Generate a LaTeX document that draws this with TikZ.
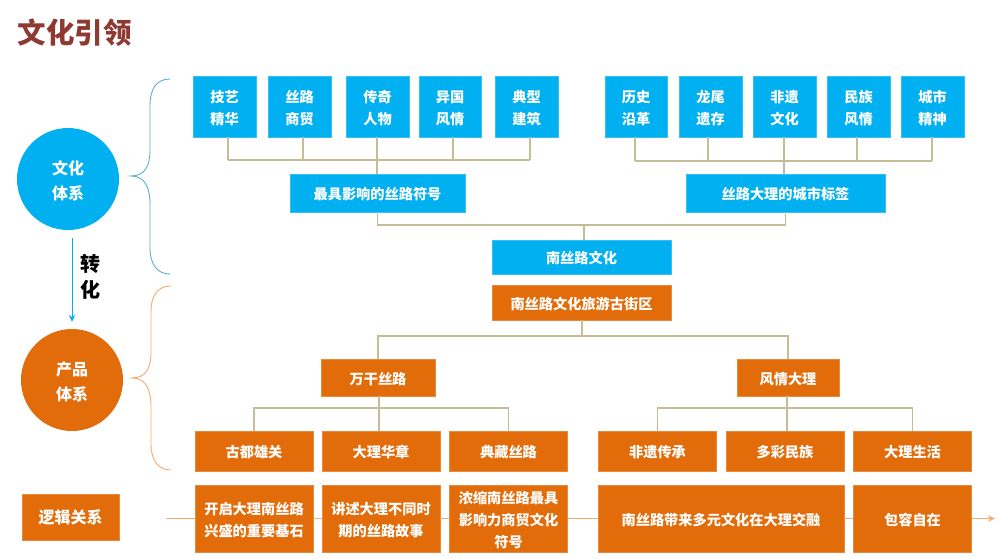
\documentclass[tikz,border=0pt]{standalone}
\usepackage{fontspec}
\setmainfont{Noto Sans CJK SC}
\usetikzlibrary{positioning, calc, arrows.meta}

\definecolor{skyblue}{HTML}{00B0F0}
\definecolor{deeporange}{HTML}{E36C0A}
\definecolor{tanline}{HTML}{C4BD97}
\definecolor{bracelight}{HTML}{F9A870}
\definecolor{braceteal}{HTML}{5AAFCB}
\definecolor{titlered}{HTML}{8E3A32}

\tikzset{
	lift/.style={execute at begin node={\rule{0pt}{#1}}},
	box/.style={rectangle, inner sep=0pt, text=white, align=center, font=\fontsize{14.2}{22}\selectfont\bfseries, lift=15pt},
	bluebox/.style={box, fill=skyblue, draw=skyblue!80!white, line width=0.5pt},
	orangebox/.style={box, fill=deeporange, draw=deeporange!80!white, line width=0.5pt},
	tag/.style={bluebox, minimum width=62.5pt, minimum height=60.5pt, lift=38pt},
	band/.style={orangebox, minimum width=118pt, minimum height=39.5pt},
	logicbox/.style={orangebox, minimum height=66.5pt},
	hub/.style={circle, inner sep=0pt, minimum size=102pt, text=white, align=center, font=\fontsize{16}{25}\selectfont\bfseries, lift=43pt},
	link/.style={draw=tanline, line width=1.2pt},
	flow/.style={draw=bracelight, line width=1pt},
	tip/.style={-{Stealth[length=7pt, width=6.5pt]}},
}

\begin{document}
\begin{tikzpicture}[x=1pt, y=-1pt, on grid]
	\useasboundingbox (0,0) rectangle (1000,558);

	\node[font=\fontsize{28.5}{30}\selectfont\bfseries, text=titlered, inner sep=0pt] (title) at (74.5,33) {文化引领};

	%Left side
	\node[hub, fill=skyblue]	(culture)	at (68,179)		{文化\\体系};
	\node[hub, fill=deeporange]	(product)	at (72,380)		{产品\\体系};
	\node[orangebox, minimum width=96.5pt, minimum height=45.5pt, font=\fontsize{16}{20}\selectfont\bfseries] (logic) at (70.5,517) {逻辑关系};
	\node[font=\fontsize{20}{26}\selectfont\bfseries, align=center, inner sep=0pt] (turn) at (90,277) {转\\化};
	\draw[tip, skyblue, line width=0.8pt, shorten <=8pt, shorten >=7pt] (product.north |- culture.south) -- (product.north);

	%Braces
	\draw[braceteal, line width=0.9pt] (170,79) .. controls (157,79) and (150,88) .. (150,106) -- (150,150) .. controls (150,166) and (145,176) .. (131,176)
		.. controls (145,176) and (150,188) .. (150,204) -- (150,248) .. controls (150,264) and (157,274) .. (170,274);
	\draw[bracelight, line width=0.9pt] (171,286) .. controls (158,286) and (151,295) .. (151,312) -- (151,352) .. controls (151,368) and (146,378) .. (132,378)
		.. controls (146,378) and (151,390) .. (151,406) -- (151,444) .. controls (151,460) and (158,470) .. (171,470);

	%Blue tags, left group
	\node[tag]	(A)	at (224.5,106.5)		{技艺\\精华};
	\node[tag]	(B)	[right=75pt of A]		{丝路\\商贸};
	\node[tag]	(C)	[right=78pt of B]		{传奇\\人物};
	\node[tag]	(D)	[right=72.5pt of C]		{异国\\风情};
	\node[tag]	(E)	[right=76.5pt of D]		{典型\\建筑};

	%Blue tags, right group
	\node[tag]	(F)	at (636,106.5)			{历史\\沿革};
	\node[tag]	(G)	[right=74.5pt of F]		{龙尾\\遗存};
	\node[tag]	(H)	[right=74pt of G]		{非遗\\文化};
	\node[tag]	(I)	[right=74pt of H]		{民族\\风情};
	\node[tag]	(J)	[right=74pt of I]		{城市\\精神};

	%Middle titles
	\node[bluebox, minimum width=174.5pt, minimum height=37.5pt]	(symbol)	at (377.5,193)	{最具影响的丝路符号};
	\node[bluebox, minimum width=198.5pt, minimum height=37.5pt]	(label)		at (785.5,193)	{丝路大理的城市标签};
	\node[bluebox, minimum width=178.5pt, minimum height=33.5pt]	(southroad)	at (581.5,257)	{南丝路文化};
	\node[orangebox, minimum width=178.5pt, minimum height=34.5pt]	(street)	[below=45.5pt of southroad]	{南丝路文化旅游古街区};
	\node[orangebox, minimum width=113.5pt, minimum height=36.5pt]	(silk)		at (378,377.5)	{万干丝路};
	\node[orangebox, minimum width=101.5pt, minimum height=36.5pt]	(dali)		at (788,377.5)	{风情大理};

	%Orange bands
	\node[band]	(K)	at (254,451)			{古都雄关};
	\node[band]	(L)	[right=127pt of K]		{大理华章};
	\node[band]	(M)	[right=127.5pt of L]	{典藏丝路};
	\node[band]	(N)	[right=149pt of M]		{非遗传承};
	\node[band]	(O)	[right=127.5pt of N]	{多彩民族};
	\node[band]	(P)	[right=127.5pt of O]	{大理生活};

	%Logic row
	\node[logicbox, minimum width=118pt, lift=38pt]	(Q)	at (254,518.5)	{开启大理南丝路\\兴盛的重要基石};
	\node[logicbox, minimum width=118pt, lift=38pt]	(R)	[right=127pt of Q]	{讲述大理不同时\\期的丝路故事};
	\node[logicbox, minimum width=118pt, lift=59pt]	(S)	[right=127.5pt of R]	{浓缩南丝路最具\\影响力商贸文化\\符号};
	\node[logicbox, minimum width=245.5pt]	(T)	[right=212.5pt of S]	{南丝路带来多元文化在大理交融};
	\node[logicbox, minimum width=118pt]	(U)	[right=191.5pt of T]	{包容自在};

	\coordinate (flowin)	at (166,518.5);
	\coordinate (flowout)	at (995,518.5);
	\coordinate (midbus)	at (584,225);
	\coordinate (lowbus)	at (582,336);
	\coordinate (silkbus)	at (379,408);
	\coordinate (dalibus)	at (787,408);

	%Links
	\foreach \n/\x in {A/228,B/303,C/377,D/453,E/530} {
		\coordinate (drop\n) at (\x,160);
		\path[link] (\n.south -| drop\n) -- (drop\n);
	}
	\foreach \n/\x in {F/635,G/708,H/784,I/857,J/932} {
		\coordinate (drop\n) at (\x,161);
		\path[link] (\n.south -| drop\n) -- (drop\n);
	}
	\path[link] (dropA) -- (dropE);
	\path[link] (dropF) -- (dropJ);
	\path[link] (dropC) -- (symbol.north -| dropC);
	\path[link] (dropH) -- (label.north -| dropH);
	\path[link] (symbol.south) |- (midbus) -| (label.south);
	\path[link] (midbus) -- (southroad.north -| midbus);
	\path[link] (street.south -| lowbus) -- (lowbus);
	\path[link] (silk.north) |- (lowbus) -| (dali.north);
	\path[link] (K.north) |- (silkbus) -| (M.north);
	\path[link] (silk.south -| silkbus) -- (L.north -| silkbus);
	\path[link] (N.north) |- (dalibus) -| (P.north);
	\path[link] (dali.south -| dalibus) -- (O.north -| dalibus);

	%Logic flow
	\path[flow] (flowin) -- (Q);
	\path[flow] (Q) -- (R);
	\path[flow] (R) -- (S);
	\path[flow] (S) -- (T);
	\path[flow] (T) -- (U);
	\path[flow, tip] (U) -- (flowout);
\end{tikzpicture}
\end{document}
